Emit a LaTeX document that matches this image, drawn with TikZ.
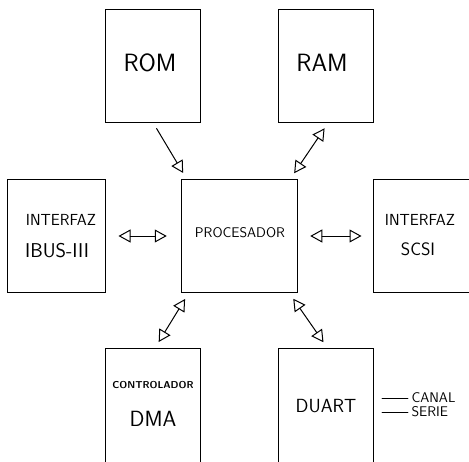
\documentclass[tikz,border=0pt]{standalone}
\usetikzlibrary{arrows.meta}
\begin{document}
\begin{tikzpicture}[x=1pt, y=-1pt, line cap=round,
    >={Triangle[open, length=12pt, width=13pt]},
    caja/.style={draw, line width=1pt, minimum width=95pt, minimum height=113pt, inner sep=0pt},
    flecha/.style={line width=1pt, shorten <=7pt, shorten >=7pt},
    every node/.style={font=\sffamily}]
    \useasboundingbox (0,0) rectangle (469,461);
    \clip (0,0) rectangle (469,461);
    %Bloques
    \node[caja] (rom) at (153,65.5) {};
    \node[caja] (ram) at (325.5,65.5) {};
    \node[caja, minimum width=98pt] (ibus) at (56,236) {};
    \node[caja, minimum width=116.5pt] (proc) at (239.5,236) {};
    \node[caja, minimum width=98pt] (scsi) at (422,236) {};
    \node[caja, minimum height=116pt] (dma) at (153,406.5) {};
    \node[caja, minimum height=116pt] (duart) at (325.5,406.5) {};
    %Textos
    \node[font=\sffamily\fontsize{25}{30}\selectfont] (romtxt) at (150,63) {ROM};
    \node[font=\sffamily\fontsize{25}{30}\selectfont] (ramtxt) at (322,63) {RAM};
    \node[font=\sffamily\fontsize{16}{19}\selectfont] (ibustxta) at (61,220) {INTERFAZ};
    \node[font=\sffamily\fontsize{20}{24}\selectfont] (ibustxtb) at (57,251) {IBUS-III};
    \node[font=\sffamily\fontsize{14}{17}\selectfont] (proctxt) at (240,233) {PROCESADOR};
    \node[font=\sffamily\fontsize{16}{19}\selectfont] (scsitxta) at (420,220) {INTERFAZ};
    \node[font=\sffamily\fontsize{18}{21}\selectfont] (scsitxtb) at (418,249) {SCSI};
    \node[font=\sffamily\bfseries\fontsize{10}{12}\selectfont] (dmatxta) at (153,385) {CONTROLADOR};
    \node[font=\sffamily\fontsize{22}{26}\selectfont] (dmatxtb) at (153,419) {DMA};
    \node[font=\sffamily\fontsize{19}{23}\selectfont] (duarttxt) at (326,406) {DUART};
    %Canal serie
    \node[font=\sffamily\fontsize{14}{17}\selectfont, anchor=west] (canal) at (408,398) {CANAL};
    \node[font=\sffamily\fontsize{14}{17}\selectfont, anchor=west] (serie) at (408,412) {SERIE};
    \coordinate (ca) at (382,398);
    \coordinate (se) at (382,412);
    \draw[line width=0.8pt] (ca) -- (canal.west);
    \draw[line width=0.8pt] (se) -- (serie.west);
    %Conexiones
    \draw[flecha, ->] (rom.south) -- ([xshift=6pt]proc.north west);
    \draw[flecha, <->] ([xshift=3pt]ram.south) -- ([xshift=-8pt]proc.north east);
    \draw[flecha, <->, shorten <=13pt, shorten >=14pt] (ibus) -- (proc);
    \draw[flecha, <->, shorten <=12pt, shorten >=11pt] (proc) -- (scsi);
    \draw[flecha, <->] ([xshift=8pt]proc.south west) -- ([xshift=2pt]dma.north);
    \draw[flecha, <->] ([xshift=-9pt]proc.south east) -- ([xshift=2pt]duart.north);
\end{tikzpicture}
\end{document}
